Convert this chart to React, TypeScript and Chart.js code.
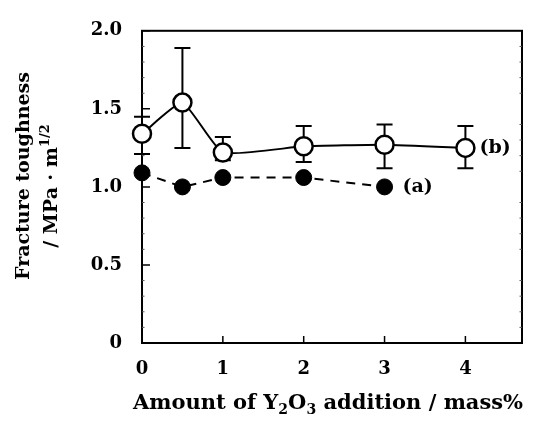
import React, { useEffect, useRef } from "react";
import { Chart, registerables } from "chart.js";

Chart.register(...registerables);

const xValuesB = [0, 0.5, 1, 2, 3, 4];
const seriesB = [1.34, 1.54, 1.22, 1.26, 1.27, 1.25];
const errBHigh = [1.45, 1.89, 1.32, 1.39, 1.4, 1.39];
const errBLow = [1.21, 1.25, 1.17, 1.16, 1.12, 1.12];
const xValuesA = [0, 0.5, 1, 2, 3];
const seriesA = [1.09, 1.0, 1.06, 1.06, 1.0];
const xTickValues = [1, 2, 3, 4];
const yTickValues = [0, 0.5, 1.0, 1.5, 2.0];
const labelA = "(a)";
const labelB = "(b)";

const FONT = '"DejaVu Serif", serif';

type Part = { t: string; size: number; dy: number };

function drawRich(ctx: CanvasRenderingContext2D, parts: Part[], cx: number, cy: number) {
  let total = 0;
  for (const p of parts) {
    ctx.font = `bold ${p.size}px ${FONT}`;
    total += ctx.measureText(p.t).width;
  }
  let x = cx - total / 2;
  ctx.textAlign = "left";
  ctx.textBaseline = "alphabetic";
  for (const p of parts) {
    ctx.font = `bold ${p.size}px ${FONT}`;
    ctx.fillText(p.t, x, cy + p.dy);
    x += ctx.measureText(p.t).width;
  }
}

const overlay = {
  id: "overlay",
  beforeDatasetsDraw(chart: any) {
    const { ctx, chartArea, scales } = chart;
    const { left, right, top, bottom } = chartArea;
    const x = scales.x;
    const y = scales.y;
    ctx.save();
    ctx.strokeStyle = "#000";
    ctx.lineWidth = 2;
    ctx.strokeRect(left, top, right - left, bottom - top);
    ctx.lineWidth = 1.5;
    ctx.beginPath();
    for (const v of yTickValues) {
      const py = y.getPixelForValue(v);
      ctx.moveTo(left, py);
      ctx.lineTo(left + 8, py);
    }
    for (const v of xTickValues) {
      const px = x.getPixelForValue(v);
      ctx.moveTo(px, bottom);
      ctx.lineTo(px, bottom - 7);
    }
    ctx.stroke();
    ctx.lineWidth = 1;
    ctx.strokeStyle = "#555";
    ctx.beginPath();
    for (let i = 1; i < 20; i++) {
      if (i % 5 === 0) continue;
      const py = y.getPixelForValue(i / 10);
      ctx.moveTo(left, py);
      ctx.lineTo(left + 2.5, py);
      ctx.moveTo(right, py);
      ctx.lineTo(right - 2.5, py);
    }
    ctx.stroke();
    // error bars
    ctx.strokeStyle = "#000";
    ctx.lineWidth = 2;
    ctx.beginPath();
    for (let i = 0; i < xValuesB.length; i++) {
      const px = x.getPixelForValue(xValuesB[i]);
      const ph = y.getPixelForValue(errBHigh[i]);
      const pl = y.getPixelForValue(errBLow[i]);
      ctx.moveTo(px, ph);
      ctx.lineTo(px, pl);
      ctx.moveTo(px - 8, ph);
      ctx.lineTo(px + 8, ph);
      ctx.moveTo(px - 8, pl);
      ctx.lineTo(px + 8, pl);
    }
    ctx.stroke();
    ctx.restore();
  },
  afterDraw(chart: any) {
    const { ctx, chartArea, scales } = chart;
    const x = scales.x;
    const y = scales.y;
    ctx.save();
    ctx.fillStyle = "#000";
    // x title
    const cx = (chartArea.left + chartArea.right) / 2 - 4;
    drawRich(
      ctx,
      [
        { t: "Amount of Y", size: 21, dy: 0 },
        { t: "2", size: 14, dy: 5 },
        { t: "O", size: 21, dy: 0 },
        { t: "3", size: 14, dy: 5 },
        { t: " addition / mass%", size: 21, dy: 0 },
      ],
      cx,
      409
    );
    // y title
    ctx.save();
    ctx.translate(29, 176);
    ctx.rotate(-Math.PI / 2);
    drawRich(ctx, [{ t: "Fracture toughness", size: 19, dy: 0 }], 0, 0);
    ctx.restore();
    ctx.save();
    ctx.translate(57, 186);
    ctx.rotate(-Math.PI / 2);
    drawRich(
      ctx,
      [
        { t: "/ MPa · m", size: 19, dy: 0 },
        { t: "1/2", size: 13, dy: -8 },
      ],
      0,
      0
    );
    ctx.restore();
    // series labels
    ctx.font = `bold 19px ${FONT}`;
    ctx.textAlign = "left";
    ctx.textBaseline = "middle";
    const lb = xValuesB.length - 1;
    ctx.fillText(labelB, x.getPixelForValue(xValuesB[lb]) + 14, y.getPixelForValue(seriesB[lb]));
    const la = xValuesA.length - 1;
    ctx.fillText(labelA, x.getPixelForValue(xValuesA[la]) + 18, y.getPixelForValue(seriesA[la]));
    ctx.restore();
  },
};

export default function App() {
  const ref = useRef<HTMLCanvasElement | null>(null);
  useEffect(() => {
    if (!ref.current) return;
    const chart = new Chart(ref.current, {
      type: "line",
      data: {
        datasets: [
          {
            label: "(b)",
            data: xValuesB.map((v, i) => ({ x: v, y: seriesB[i] })),
            borderColor: "#000",
            borderWidth: 2,
            backgroundColor: "#fff",
            pointBackgroundColor: "#fff",
            pointBorderColor: "#000",
            pointBorderWidth: 2.5,
            pointRadius: 9,
            tension: 0.15,
            clip: false as any,
          },
          {
            label: "(a)",
            data: xValuesA.map((v, i) => ({ x: v, y: seriesA[i] })),
            borderColor: "#000",
            borderWidth: 2,
            borderDash: [9, 7],
            backgroundColor: "#000",
            pointBackgroundColor: "#000",
            pointBorderColor: "#000",
            pointBorderWidth: 1,
            pointRadius: 8,
            tension: 0,
            clip: false as any,
          },
        ],
      },
      options: {
        animation: false,
        responsive: false,
        layout: { padding: { top: 21, right: 13, left: 0, bottom: 0 } },
        plugins: { legend: { display: false }, tooltip: { enabled: false } },
        scales: {
          x: {
            type: "linear",
            min: 0,
            max: 4.7,
            grid: { display: false, drawTicks: false },
            border: { display: false },
            ticks: {
              stepSize: 1,
              includeBounds: false,
              padding: 16,
              color: "#000",
              font: { family: FONT, size: 18, weight: "bold" },
            },
            afterFit: (s: any) => {
              s.height = 79;
            },
          },
          y: {
            type: "linear",
            min: 0,
            max: 2,
            grid: { display: false, drawTicks: false },
            border: { display: false },
            ticks: {
              stepSize: 0.5,
              padding: 20,
              color: "#000",
              font: { family: FONT, size: 18, weight: "bold" },
              callback: (v: any) => (v === 0 ? "0" : Number(v).toFixed(1)),
            },
            afterFit: (s: any) => {
              s.width = 142;
            },
          },
        },
      },
      plugins: [overlay],
    });
    return () => chart.destroy();
  }, []);
  return (
    <div style={{ position: "fixed", left: 0, top: 0, width: 535, height: 422, background: "#fff" }}>
      <canvas ref={ref} width={535} height={422} style={{ width: 535, height: 422 }} />
    </div>
  );
}
